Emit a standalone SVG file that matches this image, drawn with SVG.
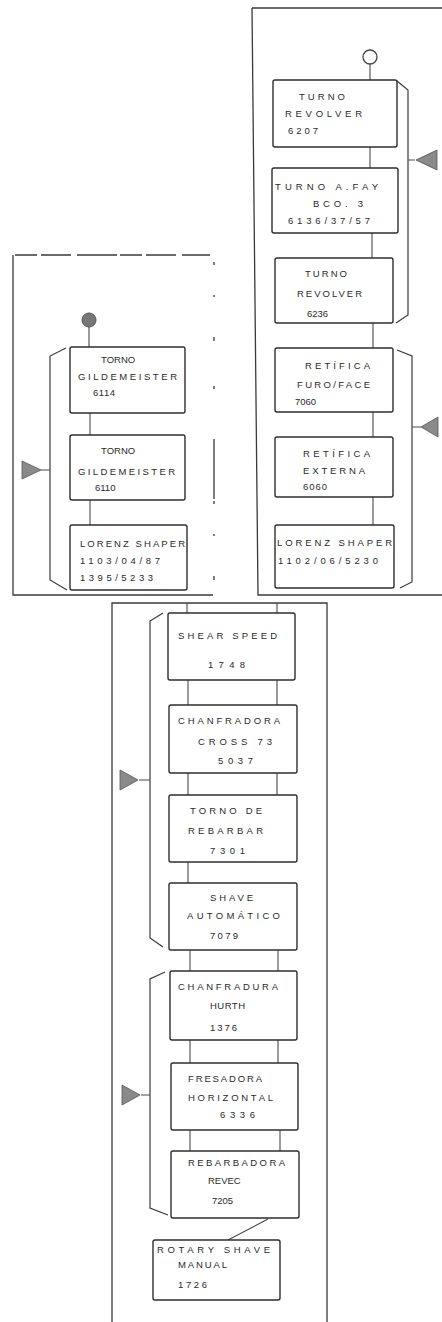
<svg xmlns="http://www.w3.org/2000/svg" width="442" height="1322" viewBox="0 0 442 1322">
<style>
.frame{fill:none;stroke:#3a3a3a;stroke-width:1.3}
.box{fill:#fff;stroke:#2e2e2e;stroke-width:1.4}
.ln{fill:none;stroke:#4a4a4a;stroke-width:1.1}
.br{fill:none;stroke:#3a3a3a;stroke-width:1.2}
.arr{fill:#8a8a8a;stroke:#555;stroke-width:0.8}
text{font-family:"Liberation Sans",Arial,sans-serif;font-size:9.5px;fill:#2a2a2a}
</style>
<rect width="442" height="1322" fill="#fff"/>
<g id="frames">
<path class="frame" d="M252,8 H442 M252,8 L258,595 H442"/>
<path class="frame" d="M13,255 V595 H213"/>
<path class="frame" d="M15,255 H210" stroke-dasharray="22,4,30,6,40,3"/>
<path class="frame" d="M214,262 V595" stroke-dasharray="3,30,2,40,4,45,3,50,60,2" stroke-width="1"/>
<path class="frame" d="M112,1322 V603 H327 V1322"/>
</g>
<g id="connectors">
<circle cx="370" cy="57" r="7" fill="#fff" stroke="#444" stroke-width="1.3"/>
<circle cx="89" cy="320" r="7" fill="#777" stroke="#555" stroke-width="1"/>
<path class="ln" d="M370,64 V80 M370,147 V168 M372,233 V258 M373,323 V348 M373,412 V437 M373,497 V525"/>
<path class="ln" d="M89,327 V347 M90,413 V435 M90,500 V525"/>
<path class="ln" d="M187,603 V613 M277,603 V613 M188,680 V705 M277,680 V705 M188,773 V795 M277,773 V795 M188,862 V883 M190,950 V971 M278,950 V971 M190,1040 V1063 M278,1040 V1063 M190,1130 V1151 M280,1130 V1151 M268,1219 L228,1240"/>
<path class="br" d="M397,81 L408,90 V315 L396,323"/>
<path class="br" d="M397,350 L412,356 V582 L400,588"/>
<path class="br" d="M66,348 L50,356 V580 L67,590"/>
<path class="br" d="M163,613 L150,621 V938 L163,947"/>
<path class="br" d="M165,972 L150,979 V1208 L168,1215"/>
<path class="ln" d="M408,160 H415 M412,427 H421 M41,470 H50 M139,780 H150 M141,1095 H150"/>
<polygon class="arr" points="416,160 437,150 437,170"/>
<polygon class="arr" points="421,427 438,417 438,437"/>
<polygon class="arr" points="41,470 22,461 22,479"/>
<polygon class="arr" points="138,780 120,770 120,790"/>
<polygon class="arr" points="140,1095 122,1085 122,1105"/>
</g>
<g id="n_6207"><rect class="box" x="273" y="80" width="124" height="67" rx="2"/>
<text x="299" y="100" textLength="46">TURNO</text><text x="285" y="117" textLength="77">REVOLVER</text><text x="288" y="134" textLength="30">6207</text></g>
<g id="n_6136"><rect class="box" x="272" y="168" width="126" height="65" rx="2"/>
<text x="275" y="190" textLength="103">TURNO A.FAY</text><text x="313" y="207" textLength="50">BCO. 3</text><text x="288" y="224" textLength="82">6136/37/57</text></g>
<g id="n_6236"><rect class="box" x="275" y="258" width="118" height="65" rx="2"/>
<text x="305" y="277" textLength="42">TURNO</text><text x="297" y="297" textLength="65">REVOLVER</text><text x="307" y="317">6236</text></g>
<g id="n_7060"><rect class="box" x="275" y="348" width="118" height="64" rx="2"/>
<text x="305" y="369" textLength="65">RETÍFICA</text><text x="297" y="388" textLength="73">FURO/FACE</text><text x="295" y="405">7060</text></g>
<g id="n_6060"><rect class="box" x="275" y="437" width="118" height="60" rx="2"/>
<text x="303" y="457" textLength="67">RETÍFICA</text><text x="303" y="474" textLength="62">EXTERNA</text><text x="303" y="490" textLength="24">6060</text></g>
<g id="n_5230"><rect class="box" x="275" y="525" width="119" height="63" rx="2"/>
<text x="277" y="546" textLength="115">LORENZ SHAPER</text><text x="278" y="564" textLength="100">1102/06/5230</text></g>
<g id="n_6114"><rect class="box" x="70" y="347" width="115" height="66" rx="2"/>
<text x="101" y="363">TORNO</text><text x="78" y="380" textLength="99">GILDEMEISTER</text><text x="93" y="396" textLength="22">6114</text></g>
<g id="n_6110"><rect class="box" x="70" y="435" width="115" height="65" rx="2"/>
<text x="101" y="454">TORNO</text><text x="78" y="475" textLength="97">GILDEMEISTER</text><text x="95" y="491">6110</text></g>
<g id="n_5233"><rect class="box" x="70" y="525" width="117" height="65" rx="2"/>
<text x="80" y="547" textLength="105">LORENZ SHAPER</text><text x="80" y="564" textLength="80">1103/04/87</text><text x="80" y="581" textLength="73">1395/5233</text></g>
<g id="n_1748"><rect class="box" x="168" y="613" width="127" height="67" rx="2"/>
<text x="178" y="639" textLength="99">SHEAR SPEED</text><text x="208" y="668" textLength="37">1748</text></g>
<g id="n_5037"><rect class="box" x="169" y="705" width="128" height="68" rx="2"/>
<text x="178" y="724" textLength="102">CHANFRADORA</text><text x="198" y="745" textLength="74">CROSS 73</text><text x="218" y="764" textLength="35">5037</text></g>
<g id="n_7301"><rect class="box" x="169" y="795" width="128" height="67" rx="2"/>
<text x="190" y="814" textLength="72">TORNO DE</text><text x="188" y="834" textLength="75">REBARBAR</text><text x="210" y="854" textLength="35">7301</text></g>
<g id="n_7079"><rect class="box" x="169" y="883" width="128" height="67" rx="2"/>
<text x="210" y="901" textLength="43">SHAVE</text><text x="187" y="919" textLength="93">AUTOMÁTICO</text><text x="210" y="939" textLength="28">7079</text></g>
<g id="n_1376"><rect class="box" x="170" y="971" width="127" height="69" rx="2"/>
<text x="178" y="990" textLength="100">CHANFRADURA</text><text x="210" y="1009" textLength="35">HURTH</text><text x="210" y="1031" textLength="27">1376</text></g>
<g id="n_6336"><rect class="box" x="171" y="1063" width="127" height="67" rx="2"/>
<text x="188" y="1082" textLength="74">FRESADORA</text><text x="188" y="1101" textLength="85">HORIZONTAL</text><text x="220" y="1118" textLength="35">6336</text></g>
<g id="n_7205"><rect class="box" x="171" y="1151" width="128" height="67" rx="2"/>
<text x="188" y="1166" textLength="97">REBARBADORA</text><text x="208" y="1184">REVEC</text><text x="212" y="1204">7205</text></g>
<g id="n_1726"><rect class="box" x="153" y="1240" width="127" height="60" rx="2"/>
<text x="157" y="1253" textLength="113">ROTARY SHAVE</text><text x="178" y="1268" textLength="49">MANUAL</text><text x="178" y="1288" textLength="29">1726</text></g>
</svg>
